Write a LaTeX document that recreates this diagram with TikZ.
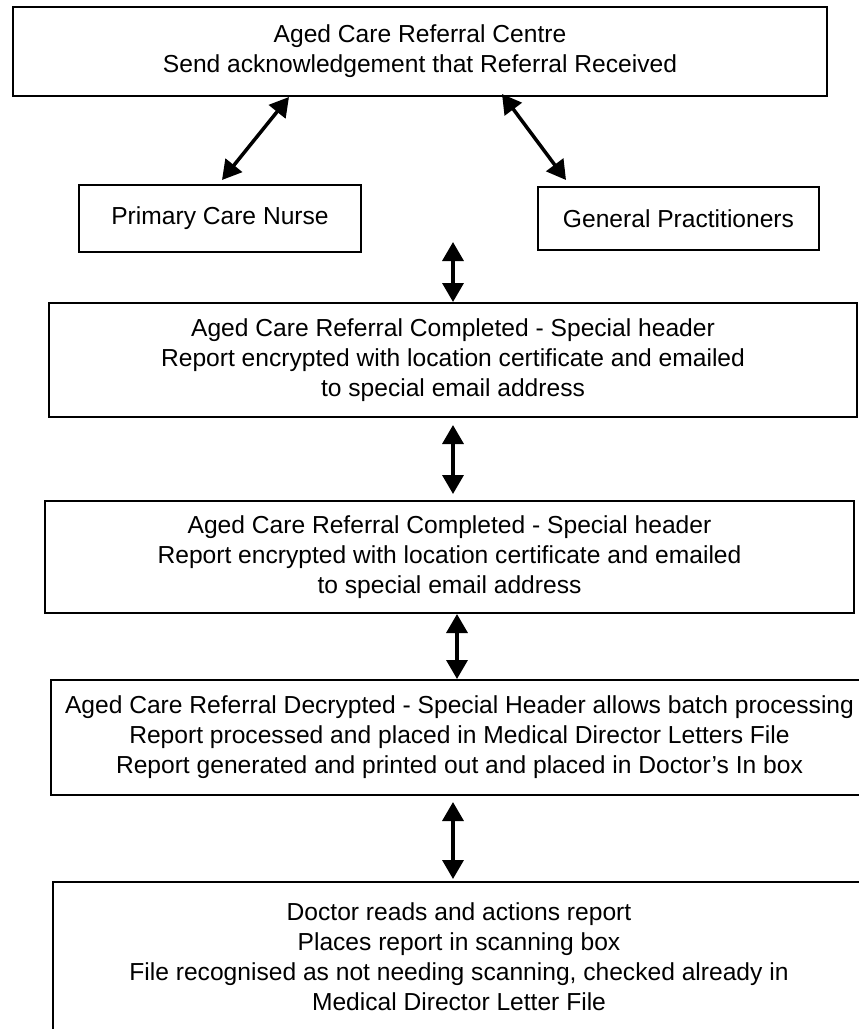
\documentclass[tikz,border=0pt]{standalone}
\usepackage{fontspec}
\setmainfont{Liberation Sans}
\usetikzlibrary{arrows.meta}
\begin{document}
\begin{tikzpicture}[x=1pt,y=-1pt,
  box/.style={draw=black, line width=2pt, fill=white, inner sep=0pt,
    align=center, font=\fontsize{24.6}{30}\selectfont},
  link/.style={line width=3.5pt, {Triangle[width=21pt,length=19pt]}-{Triangle[width=21pt,length=19pt]}}]
\useasboundingbox (0,0) rectangle (859,1029);
\clip (0,0) rectangle (859,1029);

% boxes
\node[box, minimum width=814pt, minimum height=89pt] (b1) at (420,51.5)
  {Aged Care Referral Centre\\Send acknowledgement that Referral Received};
\node[box, minimum width=282pt, minimum height=67pt] (pcn) at (220,218.5)
  {Primary Care Nurse};
\node[box, minimum width=281pt, minimum height=63pt] (gp) at (678.5,218.5)
  {General Practitioners};
\node[box, minimum width=808pt, minimum height=114pt] (b3) at (453,360)
  {Aged Care Referral Completed - Special header\\Report encrypted with location certificate and emailed\\to special email address};
\node[box, minimum width=809pt, minimum height=112pt] (b4) at (449.5,557)
  {Aged Care Referral Completed - Special header\\Report encrypted with location certificate and emailed\\to special email address};
\node[box, minimum width=817pt, minimum height=115pt] (b5) at (459.5,737.5)
  {Aged Care Referral Decrypted - Special Header allows batch processing\\Report processed and placed in Medical Director Letters File\\Report generated and printed out and placed in Doctor’s In box};
\node[box, minimum width=812pt, minimum height=150pt] (b6) at (459,957)
  {Doctor reads and actions report\\Places report in scanning box\\File recognised as not needing scanning, checked already in\\Medical Director Letter File};

\coordinate (top3) at (453,242);

% connectors
\draw[link] ([xshift=277pt]b1.south west) -- ([xshift=144pt,yshift=4pt]pcn.north west);
\draw[link] ([xshift=490pt,yshift=3pt]b1.south west) -- ([xshift=29pt,yshift=6pt]gp.north west);
\draw[link] (top3) -- (b3.north);
\draw[link] ([yshift=-7pt]b3.south) -- ([xshift=3.5pt,yshift=6pt]b4.north);
\draw[link] ([xshift=7.5pt]b4.south) -- ([xshift=-2.5pt]b5.north);
\draw[link] ([xshift=-6.5pt,yshift=-6pt]b5.south) -- ([xshift=-6pt,yshift=2pt]b6.north);
\end{tikzpicture}
\end{document}
